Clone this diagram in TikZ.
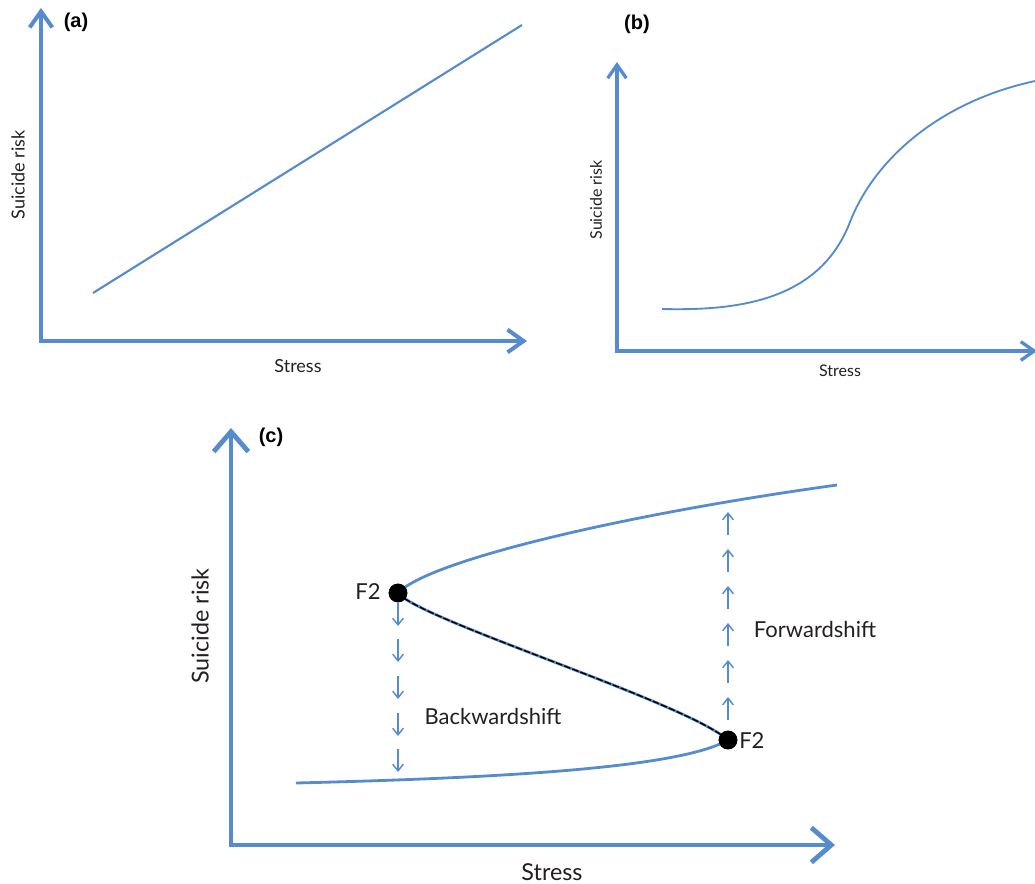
\documentclass[tikz,border=0pt]{standalone}
\usepackage{fontspec}
\setmainfont{Lato}
\newfontfamily\panelfont{Liberation Sans}
\usetikzlibrary{arrows.meta}
\definecolor{axblue}{RGB}{86,140,206}
\definecolor{ink}{RGB}{35,31,32}
\tikzset{
  axesA/.style={draw=axblue, line width=3pt, line join=miter,
    {Straight Barb[length=12pt,width=17pt]}-{Straight Barb[length=12pt,width=17pt]}},
  axesB/.style={draw=axblue, line width=2.5pt, line join=miter,
    {Straight Barb[length=10pt,width=14pt]}-{Straight Barb[length=10pt,width=14pt]}},
  axesC/.style={draw=axblue, line width=3.6pt, line join=miter,
    {Straight Barb[length=15pt,width=26pt]}-{Straight Barb[length=15pt,width=26pt]}},
  curveA/.style={draw=axblue, line width=1.6pt},
  curveB/.style={draw=axblue, line width=1.4pt},
  curveC/.style={draw=axblue, line width=2.1pt},
  overlay dash/.style={draw=black, line width=1.1pt, dash pattern=on 5pt off 1.5pt},
  shiftarrow/.style={draw=axblue, line width=1.1pt, -{Straight Barb[length=5pt,width=8pt]}},
  panel/.style={font=\panelfont\bfseries\fontsize{15}{18}\selectfont, text=black, inner sep=0pt},
  labA/.style={font=\fontsize{13.5}{16}\selectfont, text=ink, inner sep=0pt},
  labB/.style={font=\fontsize{12}{14}\selectfont, text=ink, inner sep=0pt},
  labC/.style={font=\fontsize{17.5}{20}\selectfont, text=ink, inner sep=0pt},
  note/.style={font=\fontsize{16.5}{20}\selectfont, text=ink, inner sep=0pt},
  fold/.style={circle, fill=black, inner sep=0pt, minimum size=14pt},
}
\begin{document}
\begin{tikzpicture}[x=0.75pt,y=-0.75pt]
\useasboundingbox (0,0) rectangle (1035,884);
\clip (0,0) rectangle (1035,884);

% ---------- panel (a) ----------
\draw[axesA] (41,8) -- (41,341) -- (527,341);
\draw[curveA] (93,293) -- (522,25);
\node[panel] (pa) at (76,22) {(a)};
\node[labA, rotate=90] (ya) at (18,175) {Suicide risk};
\node[labA] (xa) at (298,366) {Stress};

% ---------- panel (b) ----------
\draw[axesB] (617,62) -- (617,351) -- (1037,351);
\draw[curveB] (662,309) .. controls (740,311) and (820,300) .. (850,222)
              .. controls (874,160) and (940,100) .. (1040,80);
\node[panel] (pb) at (637,24) {(b)};
\node[labB, rotate=90] (yb) at (596,200) {Suicide risk};
\node[labB] (xb) at (840,371) {Stress};

% ---------- panel (c) ----------
\draw[axesC] (231,428) -- (231,845) -- (835,845);
\node[panel] (pc) at (271,437) {(c)};
\node[labC, rotate=90] (yc) at (200,626) {Suicide risk};
\node[labC] (xc) at (552,872) {Stress};

\coordinate (upEnd) at (837,485);
\coordinate (lowStart) at (296,783);
\node[fold] (f2a) at (398,593) {};
\node[fold] (f2b) at (728,740) {};

% shift arrows
\foreach \ya/\yb in {603/626, 639/662, 676/699, 713/736, 749/772}
  \draw[shiftarrow] (398,\ya) -- (398,\yb);
\foreach \ya/\yb in {720/697, 683/660, 646/623, 609/586, 572/549, 535/512}
  \draw[shiftarrow] (728,\ya) -- (728,\yb);

% S-curve
\draw[curveC] (f2a.center) .. controls (428,561) and (620,515) .. (upEnd);
\draw[curveC] (lowStart) .. controls (500,778) and (680,768) .. (f2b.center);
\draw[curveC] (f2a.center) .. controls (420,620) and (685,702) .. (f2b.center);
\draw[overlay dash] (f2a.center) .. controls (420,620) and (685,702) .. (f2b.center);

% redraw dots on top
\node[fold] at (f2a) {};
\node[fold] at (f2b) {};

\node[note] (lf2a) at (368,592) {F2};
\node[note, anchor=west] (lf2b) at (739,741) {F2};
\node[note] (bs) at (493,716) {Backwardshift};
\node[note] (fs) at (815,629) {Forwardshift};
\end{tikzpicture}
\end{document}
